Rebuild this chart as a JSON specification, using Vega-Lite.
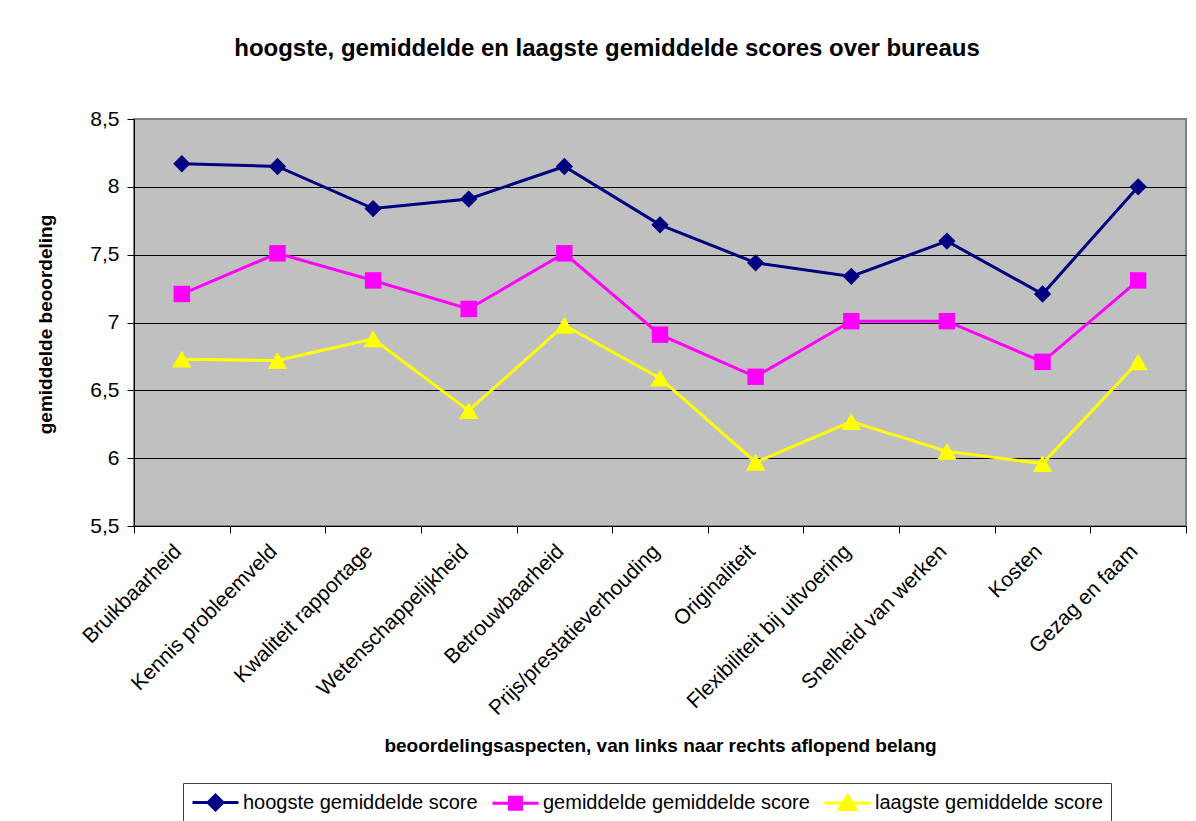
{
  "$schema": "https://vega.github.io/schema/vega-lite/v6.json",
  "autosize": {"type": "none"},
  "padding": {"left": 134, "top": 119, "right": 10, "bottom": 295},
  "width": 1052,
  "height": 407,
  "background": "white",
  "title": {
    "text": "hoogste, gemiddelde en laagste gemiddelde scores over bureaus",
    "font": "Liberation Sans",
    "fontSize": 24,
    "fontWeight": "bold",
    "color": "black",
    "anchor": "middle",
    "frame": "group",
    "dx": -53,
    "offset": 47
  },
  "config": {
    "view": {"fill": "#C0C0C0", "stroke": "#808080", "strokeWidth": 2},
    "axis": {"labelFont": "Liberation Sans", "titleFont": "Liberation Sans", "labelColor": "black", "titleColor": "black", "domainColor": "black", "tickColor": "black"}
  },
  "data": {
    "values": [
      {"aspect": "Bruikbaarheid", "serie": "hoogste gemiddelde score", "score": 8.17},
      {"aspect": "Kennis probleemveld", "serie": "hoogste gemiddelde score", "score": 8.15},
      {"aspect": "Kwaliteit rapportage", "serie": "hoogste gemiddelde score", "score": 7.84},
      {"aspect": "Wetenschappelijkheid", "serie": "hoogste gemiddelde score", "score": 7.91},
      {"aspect": "Betrouwbaarheid", "serie": "hoogste gemiddelde score", "score": 8.15},
      {"aspect": "Prijs/prestatieverhouding", "serie": "hoogste gemiddelde score", "score": 7.72},
      {"aspect": "Originaliteit", "serie": "hoogste gemiddelde score", "score": 7.44},
      {"aspect": "Flexibiliteit bij uitvoering", "serie": "hoogste gemiddelde score", "score": 7.34},
      {"aspect": "Snelheid van werken", "serie": "hoogste gemiddelde score", "score": 7.6},
      {"aspect": "Kosten", "serie": "hoogste gemiddelde score", "score": 7.21},
      {"aspect": "Gezag en faam", "serie": "hoogste gemiddelde score", "score": 8.0},
      {"aspect": "Bruikbaarheid", "serie": "gemiddelde gemiddelde score", "score": 7.21},
      {"aspect": "Kennis probleemveld", "serie": "gemiddelde gemiddelde score", "score": 7.51},
      {"aspect": "Kwaliteit rapportage", "serie": "gemiddelde gemiddelde score", "score": 7.31},
      {"aspect": "Wetenschappelijkheid", "serie": "gemiddelde gemiddelde score", "score": 7.1},
      {"aspect": "Betrouwbaarheid", "serie": "gemiddelde gemiddelde score", "score": 7.51},
      {"aspect": "Prijs/prestatieverhouding", "serie": "gemiddelde gemiddelde score", "score": 6.91},
      {"aspect": "Originaliteit", "serie": "gemiddelde gemiddelde score", "score": 6.6},
      {"aspect": "Flexibiliteit bij uitvoering", "serie": "gemiddelde gemiddelde score", "score": 7.01},
      {"aspect": "Snelheid van werken", "serie": "gemiddelde gemiddelde score", "score": 7.01},
      {"aspect": "Kosten", "serie": "gemiddelde gemiddelde score", "score": 6.71},
      {"aspect": "Gezag en faam", "serie": "gemiddelde gemiddelde score", "score": 7.31},
      {"aspect": "Bruikbaarheid", "serie": "laagste gemiddelde score", "score": 6.73},
      {"aspect": "Kennis probleemveld", "serie": "laagste gemiddelde score", "score": 6.72},
      {"aspect": "Kwaliteit rapportage", "serie": "laagste gemiddelde score", "score": 6.88},
      {"aspect": "Wetenschappelijkheid", "serie": "laagste gemiddelde score", "score": 6.35},
      {"aspect": "Betrouwbaarheid", "serie": "laagste gemiddelde score", "score": 6.98},
      {"aspect": "Prijs/prestatieverhouding", "serie": "laagste gemiddelde score", "score": 6.59},
      {"aspect": "Originaliteit", "serie": "laagste gemiddelde score", "score": 5.97},
      {"aspect": "Flexibiliteit bij uitvoering", "serie": "laagste gemiddelde score", "score": 6.27},
      {"aspect": "Snelheid van werken", "serie": "laagste gemiddelde score", "score": 6.05},
      {"aspect": "Kosten", "serie": "laagste gemiddelde score", "score": 5.96},
      {"aspect": "Gezag en faam", "serie": "laagste gemiddelde score", "score": 6.71}
    ]
  },
  "encoding": {
    "x": {
      "field": "aspect",
      "type": "nominal",
      "bandPosition": 0.5,
      "sort": ["Bruikbaarheid", "Kennis probleemveld", "Kwaliteit rapportage", "Wetenschappelijkheid", "Betrouwbaarheid", "Prijs/prestatieverhouding", "Originaliteit", "Flexibiliteit bij uitvoering", "Snelheid van werken", "Kosten", "Gezag en faam"],
      "scale": {"type": "band", "paddingInner": 0, "paddingOuter": 0},
      "axis": {
        "title": "beoordelingsaspecten, van links naar rechts aflopend belang",
        "titleFontSize": 19,
        "titleFontWeight": "bold",
        "titleX": 526,
        "titleY": 225,
        "titleBaseline": "alphabetic",
        "titleAnchor": "middle",
        "tickBand": "extent",
        "tickSize": 7,
        "tickWidth": 1,
        "domainWidth": 1,
        "labelAngle": -45,
        "labelAlign": "right",
        "labelBaseline": "middle",
        "labelFontSize": 21,
        "labelPadding": 15,
        "labelOffset": -4,
        "labelOverlap": false,
        "labelLimit": 400,
        "grid": false
      }
    },
    "y": {
      "field": "score",
      "type": "quantitative",
      "scale": {"domain": [5.5, 8.5], "nice": false, "zero": false},
      "axis": {
        "title": "gemiddelde beoordeling",
        "titleFontSize": 19,
        "titleFontWeight": "bold",
        "titleAngle": -90,
        "titleX": -89,
        "titleY": 205,
        "titleBaseline": "middle",
        "titleAlign": "center",
        "values": [5.5, 6, 6.5, 7, 7.5, 8, 8.5],
        "labelExpr": "replace(format(datum.value, '.1~f'), '.', ',')",
        "labelFontSize": 21,
        "labelPadding": 8,
        "tickSize": 7,
        "domainWidth": 1,
        "grid": true,
        "gridColor": {"condition": {"test": "datum.value == 8.5", "value": "#808080"}, "value": "black"},
        "gridWidth": 1
      }
    },
    "color": {
      "field": "serie",
      "type": "nominal",
      "scale": {
        "domain": ["hoogste gemiddelde score", "gemiddelde gemiddelde score", "laagste gemiddelde score"],
        "range": ["#000080", "#FF00FF", "#FFFF00"]
      },
      "legend": {
        "title": null,
        "orient": "none",
        "legendX": 49,
        "legendY": 664,
        "direction": "horizontal",
        "strokeColor": "#404040",
        "fillColor": "white",
        "padding": 8,
        "columnPadding": 8,
        "labelFont": "Liberation Sans",
        "labelFontSize": 20,
        "labelColor": "black",
        "labelOffset": 16,
        "labelLimit": 400,
        "symbolOffset": 13,
        "symbolType": "M-2.3,0H2.3M0,-0.75L0.75,0L0,0.75L-0.75,0Z",
        "symbolSize": 400,
        "symbolStrokeWidth": 3,
        "encode": {
          "symbols": {
            "update": {
              "shape": {"signal": "datum.value === 'hoogste gemiddelde score' ? 'M-2.3,0H2.3M0,-0.75L0.75,0L0,0.75L-0.75,0Z' : datum.value === 'gemiddelde gemiddelde score' ? 'M-2.3,0H2.3M-0.6,-0.6H0.6V0.6H-0.6Z' : 'M-2.3,0H2.3M0,-0.75L0.85,0.65H-0.85Z'"},
              "fill": {"signal": "scale('color', datum.value)"},
              "stroke": {"signal": "scale('color', datum.value)"},
              "strokeWidth": {"value": 3},
              "opacity": {"value": 1}
            }
          }
        }
      }
    }
  },
  "layer": [
    {
      "mark": {"type": "line", "strokeWidth": 3}
    },
    {
      "transform": [{"filter": "datum.serie === 'hoogste gemiddelde score'"}],
      "mark": {"type": "point", "shape": "diamond", "filled": true, "opacity": 1, "size": 300}
    },
    {
      "transform": [{"filter": "datum.serie === 'gemiddelde gemiddelde score'"}],
      "mark": {"type": "point", "shape": "square", "filled": true, "opacity": 1, "size": 270}
    },
    {
      "transform": [{"filter": "datum.serie === 'laagste gemiddelde score'"}],
      "mark": {"type": "point", "shape": "triangle-up", "filled": true, "opacity": 1, "size": 380}
    }
  ]
}
